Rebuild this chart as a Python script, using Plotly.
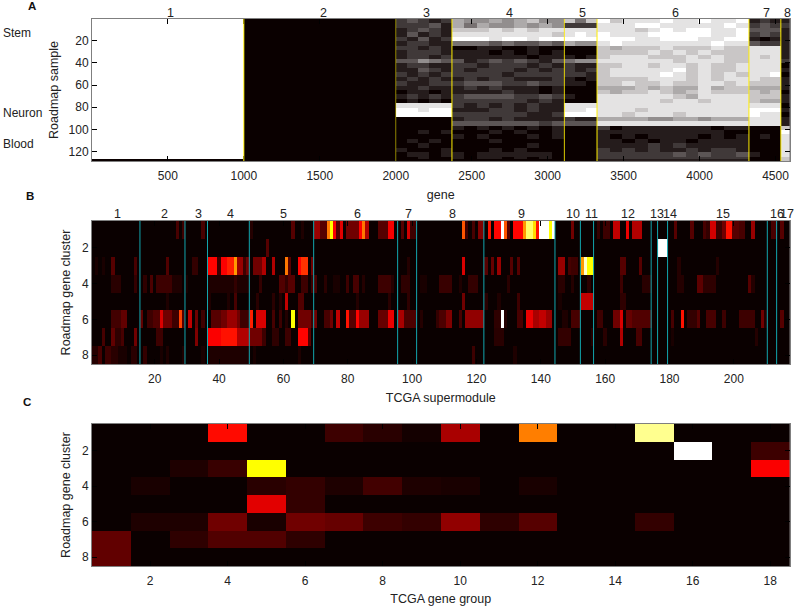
import numpy as np
import plotly.graph_objects as go

HOT = [[0, "#0a0000"], [0.2, "#700000"], [0.375, "#ff0000"], [0.75, "#ffff00"], [1, "#ffffff"]]
GRAY = [[0, "#0a0000"], [1, "#ffffff"]]
FONT = "Liberation Sans, Arial, sans-serif"

# ---------- Panel A: share of "on" cells, read per module / per 4 samples (digit = tenths of 9)
A_module_edges = [0.5, 1000, 2000, 2370, 3110, 3325, 4325, 4535, 4592]
A_module_cols = [1, 1, 5, 9, 3, 12, 3, 1]
A_module_labels = ["1", "2", "3", "4", "5", "6", "7", "8"]
A_module_label_genes = [518, 1522, 2200, 2750, 3230, 3840, 4440, 4580]
A_rows = [
    "9 0 23212 655656755 747 978889889889 121 1",
    "9 0 22231 646556565 222 888998888898 232 2",
    "9 0 12321 777878788 888 888789899889 333 1",
    "9 0 13121 888888887 898 988899999889 232 1",
    "9 0 21312 999899899 999 999889998899 101 1",
    "9 0 12211 444343343 655 898888888988 322 1",
    "9 0 22121 001100100 000 767778777877 888 1",
    "9 0 12221 111010101 000 777787878777 888 1",
    "9 0 12212 111111011 101 788877787877 878 1",
    "9 0 33543 312323213 455 888888788877 888 2",
    "9 0 12211 221222121 211 778878878778 888 0",
    "9 0 11321 212221212 212 788888978778 888 1",
    "9 0 21212 222212222 221 788889878787 889 0",
    "9 0 12121 121221112 101 777788878788 877 1",
    "9 0 21122 233322322 110 778778778878 777 1",
    "9 0 11211 121211101 000 666767668677 666 1",
    "9 0 01101 111121101 000 767787678777 767 0",
    "9 0 12121 233332232 100 888888768888 777 1",
    "9 0 01010 222222121 000 888887887888 766 1",
    "9 0 88888 212121211 888 888888888888 888 0",
    "9 0 99899 111221211 889 888788888888 999 1",
    "9 0 99999 222222112 999 887888788888 988 0",
    "9 0 00000 122121111 211 666655665666 888 1",
    "9 0 00000 333333323 333 888888888888 888 1",
    "9 0 00000 101010101 000 201111111011 000 7",
    "9 0 00101 000101001 000 111111111100 000 9",
    "9 0 00000 101000101 000 101011110101 010 8",
    "9 0 01010 000100000 000 110101101111 000 8",
    "9 0 00100 000000100 000 111121211111 000 8",
    "9 0 10001 000101000 000 212121121221 000 8",
    "9 0 01101 101111110 000 222222323223 100 8",
    "9 0 00100 101101010 000 222222222222 000 7",
    "0 0 00000 000000000 000 111111111111 000 7",
]
A_row_edges = [0.5 + 4 * k for k in range(32)] + [126.5, 128.5]
A_line_genes = [1000, 2000, 2370, 3110, 3325, 4325, 4535]
A_line_opacity = [1, 0.55, 1, 0.85, 1, 1, 1]

# ---------- Panel B: runs (first column, last column, level) per gene cluster
B_row1 = [(27,27,.12),(29,29,.1),(35,35,.12),(50,50,.05),(63,63,.15),(66,66,.04),(70,71,.25),(72,73,.15),(74,74,.55),(75,75,.75),(76,76,.37),(77,77,.15),(78,78,.34),(80,83,.2),(84,84,.37),(85,85,.55),(86,86,.28),(90,92,.15),(93,94,.36),(97,97,.15),(99,99,.32),(100,101,.1),(116,116,.5),(117,117,.1),(119,119,.12),(121,122,.22),(124,124,.4),(126,127,.38),(128,128,1),(129,129,.5),(130,130,.15),(132,134,.38),(135,135,.6),(136,137,.85),(138,138,.7),(139,139,.4),(140,142,1),(143,143,.75),(144,144,1),(150,150,.2),(158,158,.08),(160,161,.1),(163,164,.3),(167,167,.35),(169,171,.28),(182,182,.15),(187,187,.15),(191,191,.12),(192,192,.08),(193,194,.32),(195,196,.1),(197,197,.2),(198,199,.4),(200,201,.15),(202,203,.12),(206,206,.25),(212,213,.12),(215,215,.15)]
B_row2 = [(55,55,.15),(177,179,1)]
B_row3 = [(2,2,.03),(4,4,.03),(7,7,.15),(14,14,.12),(24,24,.14),(32,33,.08),(37,39,.38),(40,40,.1),(41,42,.37),(43,44,.42),(45,45,.6),(46,47,.25),(48,48,.1),(49,49,.2),(51,53,.2),(54,54,.28),(57,57,.28),(61,61,.55),(62,62,.15),(65,65,.38),(66,67,.45),(69,69,.2),(99,99,.05),(116,116,.33),(123,123,.15),(125,125,.18),(127,127,.25),(131,131,.15),(133,133,.15),(146,147,.25),(149,149,.12),(150,151,.1),(153,153,.6),(154,154,.95),(155,156,.75),(165,166,.15),(171,171,.15),(183,183,.05),(195,195,.05)]
B_row4 = [(7,9,.06),(14,14,.08),(17,17,.07),(19,19,.13),(21,25,.1),(26,28,.04),(30,30,.03),(37,40,.04),(41,44,.04),(45,45,.08),(46,49,.04),(53,53,.08),(59,60,.14),(61,61,.08),(62,63,.15),(66,67,.1),(69,69,.1),(70,70,.12),(73,73,.06),(76,77,.03),(80,80,.1),(82,83,.12),(85,85,.05),(90,93,.1),(94,94,.05),(97,99,.07),(103,104,.03),(109,112,.09),(115,115,.04),(118,120,.08),(130,130,.06),(146,147,.06),(150,150,.05),(155,155,.06),(165,165,.1),(172,174,.06),(183,184,.05),(189,190,.16),(191,194,.07),(205,205,.15),(206,206,.05)]
B_row5 = [(24,24,.04),(37,37,.04),(43,43,.04),(45,45,.12),(52,52,.06),(57,57,.06),(59,59,.05),(61,61,.3),(65,66,.14),(83,83,.05),(93,93,.06),(99,99,.07),(116,116,.2),(123,123,.06),(127,127,.04),(133,133,.1),(146,146,.03),(153,156,.3),(165,166,.07)]
B_row6 = [(7,9,.11),(10,11,.17),(16,16,.17),(18,19,.1),(20,21,.14),(22,22,.33),(23,25,.2),(26,27,.1),(28,28,.47),(29,29,.15),(31,31,.3),(33,33,.2),(35,35,.1),(38,40,.15),(41,42,.2),(43,45,.25),(46,46,.2),(47,49,.1),(50,50,.42),(52,54,.33),(57,57,.12),(59,59,.1),(61,61,.05),(63,63,.75),(65,68,.2),(69,69,.1),(70,70,.2),(73,74,.12),(75,75,.2),(77,77,.3),(80,80,.4),(81,82,.15),(83,83,.38),(84,86,.25),(90,92,.18),(93,94,.35),(96,97,.27),(98,101,.13),(103,103,.05),(108,108,.08),(109,110,.13),(111,112,.22),(115,115,.12),(117,122,.24),(126,127,.07),(128,128,1),(129,129,.05),(133,134,.12),(136,137,.35),(138,139,.27),(140,141,.3),(142,143,.25),(147,148,.04),(150,152,.12),(158,159,.1),(163,164,.2),(165,165,.33),(167,168,.18),(169,174,.14),(181,181,.12),(184,184,.4),(186,188,.08),(189,189,.15),(192,194,.12),(197,197,.1),(202,206,.1),(209,209,.2),(210,210,.05),(215,215,.15)]
B_row7 = [(4,4,.12),(7,7,.17),(8,9,.07),(10,10,.12),(14,14,.2),(21,22,.1),(33,33,.22),(37,40,.37),(41,45,.4),(46,49,.28),(50,53,.2),(54,54,.1),(57,58,.07),(61,62,.1),(65,67,.38),(68,68,.15),(126,128,.06),(146,149,.08),(156,156,.05),(160,160,.06),(165,165,.28),(170,171,.12),(181,181,.03),(207,207,.05)]
B_row8 = [(1,2,.05),(3,3,.12),(5,6,.1),(7,8,.06),(9,11,.03),(13,14,.06),(17,17,.08),(22,22,.03),(24,24,.04),(29,29,.04),(35,35,.03),(37,49,.04),(51,51,.03),(65,65,.04),(119,119,.1),(132,132,.04)]
B_rows = [B_row1, B_row2, B_row3, B_row4, B_row5, B_row6, B_row7, B_row8]
B_n_cols = 217
B_line_cols = [15.4, 29.4, 36.4, 49.4, 69.4, 95.5, 101.4, 122.3, 144.4, 152.3, 156.4, 174.3, 176.3, 179.4, 210.4, 213.3]
B_labels = ["1","2","3","4","5","6","7","8","9","10","11","12","13","14","15","16","17"]
B_label_cols = [8.3, 22.9, 33.5, 43.4, 59.9, 82.9, 98.8, 112.5, 133.9, 150, 155.9, 167.2, 176, 180, 196.5, 213.5, 216.6]

# ---------- Panel C: levels per gene cluster (rows) and gene group (columns)
C_row1 = [0,0,0,.39,0,0,.1,.06,.02,.27,0,.56,0,0,.89,0,0,0]
C_row2 = [0,0,0,0,0,0,0,0,0,0,0,0,0,0,0,1,0,.1]
C_row3 = [0,0,.04,.09,.75,0,0,0,0,0,0,0,0,0,0,0,0,.37]
C_row4 = [0,.03,0,0,.06,.08,.04,.11,.04,.03,0,.03,0,0,0,0,0,0]
C_row5 = [0,0,0,0,.34,.08,0,0,0,0,0,0,0,0,0,0,0,0]
C_row6 = [0,.04,.04,.2,.03,.2,.18,.1,.08,.24,.07,.15,0,0,.08,0,0,0]
C_row7 = [.17,0,.07,.14,.14,.07,0,0,0,0,0,0,0,0,0,0,0,0]
C_row8 = [.17,0,0,0,0,0,0,0,0,0,0,0,0,0,0,0,0,0]

side_labels = ["Stem", "Neuron", "Blood"]
side_samples = [13, 85, 113]

# ---------- build matrices
a_edges = []
for i, n in enumerate(A_module_cols):
    a_edges.extend(np.linspace(A_module_edges[i], A_module_edges[i + 1], n, endpoint=False).tolist())
a_edges.append(A_module_edges[-1])
A_z = [[int(c) / 9 for c in r.replace(" ", "")] for r in A_rows]

B_z = np.zeros((8, B_n_cols))
for r, runs in enumerate(B_rows):
    for c1, c2, v in runs:
        B_z[r, c1 - 1:c2] = v
C_z = [C_row1, C_row2, C_row3, C_row4, C_row5, C_row6, C_row7, C_row8]

fig = go.Figure()
fig.add_trace(go.Heatmap(z=A_z, x=a_edges, y=A_row_edges, colorscale=GRAY, zmin=0, zmax=1, showscale=False,
                         xaxis="x", yaxis="y"))
fig.add_trace(go.Heatmap(z=B_z, x0=1, dx=1, y0=1, dy=1, colorscale=HOT, zmin=0, zmax=1, showscale=False,
                         xaxis="x2", yaxis="y2"))
fig.add_trace(go.Heatmap(z=C_z, x0=1, dx=1, y0=1, dy=1, colorscale=HOT, zmin=0, zmax=1, showscale=False,
                         xaxis="x3", yaxis="y3"))

W, H = 795, 606
L, R = 92, 789.5
def dom(top, bot):
    return [1 - bot / H, 1 - top / H]

INK = "#222222"
common = dict(ticks="inside", ticklen=5, tickwidth=1, tickcolor="#000000", mirror="allticks",
              showline=True, linecolor="#7f7f7f", linewidth=1, showgrid=False, zeroline=False,
              tickfont=dict(family=FONT, size=12, color=INK),
              title_font=dict(family=FONT, size=12.5, color=INK))
xcommon = dict(ticklabelstandoff=4, **common)

fig.update_layout(
    width=W, height=H, margin=dict(l=0, r=0, t=0, b=0), paper_bgcolor="white", plot_bgcolor="#0a0000",
    font=dict(family=FONT, size=12, color=INK), showlegend=False,
    xaxis=dict(domain=[L / W, R / W], range=[0.5, 4592], tickvals=[500, 1000, 1500, 2000, 2500, 3000, 3500, 4000, 4500],
               anchor="y", title=dict(text="gene", standoff=7), **xcommon),
    yaxis=dict(domain=dom(19, 161), range=[128.5, 0.5], tickvals=[20, 40, 60, 80, 100, 120],
               anchor="x", title=dict(text="Roadmap sample", standoff=7), **common),
    xaxis2=dict(domain=[L / W, R / W], range=[0.5, 217.3], tickvals=list(range(20, 201, 20)),
                anchor="y2", title=dict(text="TCGA supermodule", standoff=7), **xcommon),
    yaxis2=dict(domain=dom(221, 364), range=[8.5, 0.5], tickvals=[2, 4, 6, 8],
                anchor="x2", title=dict(text="Roadmap gene cluster", standoff=8), **common),
    xaxis3=dict(domain=[L / W, R / W], range=[0.5, 18.5], tickvals=list(range(2, 19, 2)),
                anchor="y3", title=dict(text="TCGA gene group", standoff=7), **xcommon),
    yaxis3=dict(domain=dom(424, 566), range=[8.5, 0.5], tickvals=[2, 4, 6, 8],
                anchor="x3", title=dict(text="Roadmap gene cluster", standoff=8), **common),
)

for g, op in zip(A_line_genes, A_line_opacity):
    fig.add_shape(type="line", xref="x", yref="y domain", x0=g, x1=g, y0=0, y1=1,
                  line=dict(color="#ffee00", width=1), opacity=op)
for c in B_line_cols:
    fig.add_shape(type="line", xref="x2", yref="y2 domain", x0=c, x1=c, y0=0, y1=1,
                  line=dict(color="#12a5ad", width=1))

for txt, g in zip(A_module_labels, A_module_label_genes):
    fig.add_annotation(text=txt, x=g, xref="x", y=1 - 13 / H, yref="paper", yanchor="middle", showarrow=False,
                       font=dict(family=FONT, size=12.5, color=INK))
for txt, c in zip(B_labels, B_label_cols):
    fig.add_annotation(text=txt, x=c, xref="x2", y=1 - 214 / H, yref="paper", yanchor="middle", showarrow=False,
                       font=dict(family=FONT, size=12.5, color=INK))
for txt, s in zip(side_labels, side_samples):
    fig.add_annotation(text=txt, x=1 / W, xref="paper", xanchor="left", y=s, yref="y", yanchor="middle",
                       showarrow=False, font=dict(family=FONT, size=12, color=INK))
for txt, px, py in [("A", 26, 6), ("B", 24, 196), ("C", 21, 402)]:
    fig.add_annotation(text="<b>%s</b>" % txt, x=px / W, xref="paper", y=1 - py / H, yref="paper", yanchor="middle",
                       showarrow=False, font=dict(family=FONT, size=11.5, color="#111111"))

# the page's default 8px body margin would push the figure out of the window
fig.write_html("out.html", config=dict(displayModeBar=False),
               post_script="document.body.style.margin='0';document.body.style.overflow='hidden';window.dispatchEvent(new Event('resize'));")
